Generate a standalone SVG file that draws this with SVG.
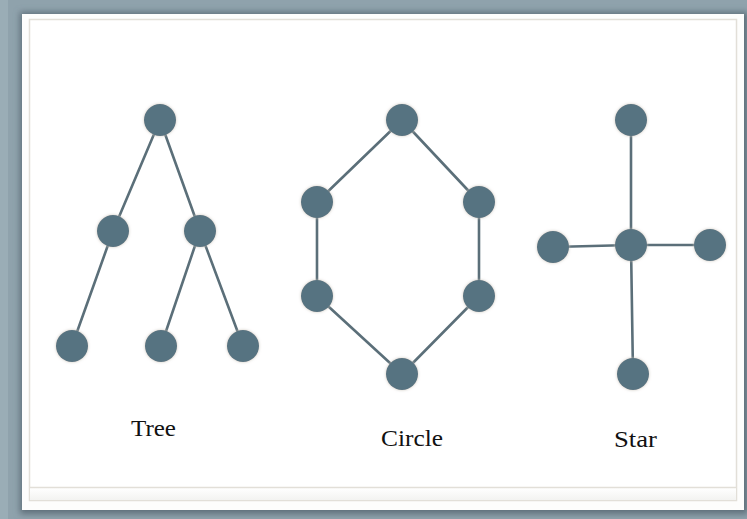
<svg xmlns="http://www.w3.org/2000/svg" width="747" height="519" viewBox="0 0 747 519">
<style>
.node{fill:#577381;}
.edge{stroke:#5b6f79;stroke-width:2.6;fill:none;stroke-linecap:round;}
.lbl{font-family:"Liberation Serif","Times New Roman",serif;font-size:23px;fill:#111;}
</style>
<defs>
<filter id="glow" x="-50%" y="-50%" width="200%" height="200%">
<feGaussianBlur in="SourceAlpha" stdDeviation="1.5" result="b"/>
<feFlood flood-color="#c9c2b8" flood-opacity="0.9"/>
<feComposite in2="b" operator="in" result="s"/>
<feMerge><feMergeNode in="s"/><feMergeNode in="SourceGraphic"/></feMerge>
</filter>
<filter id="pshadow" x="-5%" y="-5%" width="110%" height="110%">
<feGaussianBlur stdDeviation="3"/>
</filter>
<linearGradient id="bottomfade" x1="0" y1="0" x2="0" y2="1">
<stop offset="0" stop-color="#ffffff"/>
<stop offset="1" stop-color="#f3f3f1"/>
</linearGradient>
</defs>
<rect x="0" y="0" width="747" height="519" fill="#8fa2ac"/>
<rect x="0" y="0" width="8" height="519" fill="#9aadb6"/>
<rect x="20" y="12" width="728" height="502" fill="#5f707a" filter="url(#pshadow)"/>
<rect x="22" y="14" width="722" height="496" fill="#fdfdfc"/>
<rect x="29.5" y="19.5" width="707" height="481" fill="#ffffff" stroke="#e2dfd8" stroke-width="1.5"/>
<rect x="30" y="488" width="706" height="12" fill="url(#bottomfade)"/>
<line x1="29.5" y1="487.5" x2="736.5" y2="487.5" stroke="#e2dfd8" stroke-width="1.5"/>
<g id="connectors">
<line class="edge" x1="160" y1="120" x2="113" y2="231"/>
<line class="edge" x1="160" y1="120" x2="200" y2="231"/>
<line class="edge" x1="113" y1="231" x2="72" y2="346"/>
<line class="edge" x1="200" y1="231" x2="161" y2="346"/>
<line class="edge" x1="200" y1="231" x2="243" y2="346"/>
<line class="edge" x1="402" y1="120" x2="317" y2="202"/>
<line class="edge" x1="402" y1="120" x2="479" y2="202"/>
<line class="edge" x1="317" y1="202" x2="317" y2="296"/>
<line class="edge" x1="479" y1="202" x2="479" y2="296"/>
<line class="edge" x1="317" y1="296" x2="402" y2="374"/>
<line class="edge" x1="479" y1="296" x2="402" y2="374"/>
<line class="edge" x1="631" y1="120" x2="631" y2="245"/>
<line class="edge" x1="553" y1="247" x2="631" y2="245"/>
<line class="edge" x1="631" y1="245" x2="710" y2="245"/>
<line class="edge" x1="631" y1="245" x2="633" y2="374"/>
</g>
<g id="tree-root" filter="url(#glow)"><circle class="node" cx="160" cy="120" r="16"/></g>
<g id="tree-left" filter="url(#glow)"><circle class="node" cx="113" cy="231" r="16"/></g>
<g id="tree-right" filter="url(#glow)"><circle class="node" cx="200" cy="231" r="16"/></g>
<g id="tree-leaf1" filter="url(#glow)"><circle class="node" cx="72" cy="346" r="16"/></g>
<g id="tree-leaf2" filter="url(#glow)"><circle class="node" cx="161" cy="346" r="16"/></g>
<g id="tree-leaf3" filter="url(#glow)"><circle class="node" cx="243" cy="346" r="16"/></g>
<g id="circle-top" filter="url(#glow)"><circle class="node" cx="402" cy="120" r="16"/></g>
<g id="circle-ul" filter="url(#glow)"><circle class="node" cx="317" cy="202" r="16"/></g>
<g id="circle-ur" filter="url(#glow)"><circle class="node" cx="479" cy="202" r="16"/></g>
<g id="circle-ll" filter="url(#glow)"><circle class="node" cx="317" cy="296" r="16"/></g>
<g id="circle-lr" filter="url(#glow)"><circle class="node" cx="479" cy="296" r="16"/></g>
<g id="circle-bottom" filter="url(#glow)"><circle class="node" cx="402" cy="374" r="16"/></g>
<g id="star-top" filter="url(#glow)"><circle class="node" cx="631" cy="120" r="16"/></g>
<g id="star-left" filter="url(#glow)"><circle class="node" cx="553" cy="247" r="16"/></g>
<g id="star-center" filter="url(#glow)"><circle class="node" cx="631" cy="245" r="16"/></g>
<g id="star-right" filter="url(#glow)"><circle class="node" cx="710" cy="245" r="16"/></g>
<g id="star-bottom" filter="url(#glow)"><circle class="node" cx="633" cy="374" r="16"/></g>
<g id="labels">
<text class="lbl" x="131" y="436" textLength="45" lengthAdjust="spacingAndGlyphs">Tree</text>
<text class="lbl" x="381" y="446" textLength="62" lengthAdjust="spacingAndGlyphs">Circle</text>
<text class="lbl" x="614" y="447" textLength="43" lengthAdjust="spacingAndGlyphs">Star</text>
</g>
</svg>
